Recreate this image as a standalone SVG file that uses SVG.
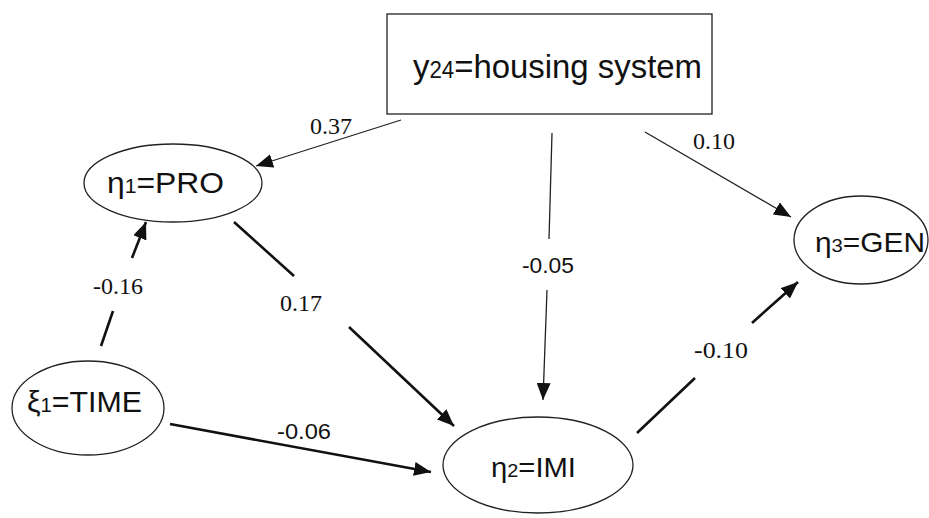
<svg xmlns="http://www.w3.org/2000/svg" width="929" height="518" viewBox="0 0 929 518">
<style>
.node{fill:#fff;stroke:#222;stroke-width:1.3}
.nt{font-family:"Liberation Sans",Arial,sans-serif;fill:#111}
.thin{stroke:#222;stroke-width:1.3;fill:none}
.thick{stroke:#111;stroke-width:2.6;fill:none}
.lbs{font-family:"Liberation Serif","Times New Roman",serif;font-size:24px;fill:#111}
.lbn{font-family:"Liberation Sans",Arial,sans-serif;font-size:22px;fill:#111}
</style>
<defs>
<marker id="ah" markerUnits="userSpaceOnUse" markerWidth="18" markerHeight="14" refX="17" refY="7" orient="auto">
<path d="M0,0 L17,7 L0,14 z" fill="#111"/>
</marker>
</defs>
<rect width="929" height="518" fill="#fff"/>
<g id="connectors">
<line class="thin" x1="401" y1="120" x2="256" y2="166" marker-end="url(#ah)"/>
<line class="thin" x1="552" y1="133" x2="549" y2="239"/>
<line class="thin" x1="547" y1="290" x2="543" y2="400" marker-end="url(#ah)"/>
<line class="thin" x1="645" y1="132" x2="791" y2="217" marker-end="url(#ah)"/>
<line class="thick" x1="101" y1="346" x2="113" y2="311"/>
<line class="thick" x1="132" y1="258" x2="146" y2="222" marker-end="url(#ah)"/>
<line class="thick" x1="234" y1="222" x2="294" y2="276"/>
<line class="thick" x1="349" y1="327" x2="454" y2="426" marker-end="url(#ah)"/>
<line class="thick" x1="170" y1="424" x2="431" y2="472" marker-end="url(#ah)"/>
<line class="thick" x1="637" y1="433" x2="695" y2="378"/>
<line class="thick" x1="752" y1="323" x2="798" y2="282" marker-end="url(#ah)"/>
<text class="lbs" x="310" y="134">0.37</text>
<text class="lbs" x="280" y="311">0.17</text>
<text class="lbs" x="93" y="294">-0.16</text>
<text class="lbn" x="522" y="273" textLength="52" lengthAdjust="spacingAndGlyphs">-0.05</text>
<text class="lbn" x="277" y="439" textLength="54" lengthAdjust="spacingAndGlyphs">-0.06</text>
<text class="lbs" x="694" y="358" textLength="54" lengthAdjust="spacingAndGlyphs">-0.10</text>
<text class="lbs" x="693" y="149">0.10</text>
</g>
<g id="y24">
<rect class="node" x="387" y="14" width="325" height="100"/>
<text class="nt" x="413" y="78" font-size="34" textLength="289" lengthAdjust="spacingAndGlyphs">y<tspan font-size="23">24</tspan>=housing system</text>
</g>
<g id="eta1">
<ellipse class="node" cx="173" cy="183" rx="89" ry="39"/>
<text class="nt" x="107" y="193" font-size="30" textLength="117" lengthAdjust="spacingAndGlyphs">η<tspan font-size="20">1</tspan>=PRO</text>
</g>
<g id="xi1">
<ellipse class="node" cx="88" cy="408" rx="76" ry="47"/>
<text class="nt" x="27" y="412" font-size="30" textLength="115" lengthAdjust="spacingAndGlyphs">ξ<tspan font-size="20">1</tspan>=TIME</text>
</g>
<g id="eta2">
<ellipse class="node" cx="538" cy="465" rx="95" ry="48"/>
<text class="nt" x="491" y="477" font-size="28" textLength="85" lengthAdjust="spacingAndGlyphs">η<tspan font-size="19">2</tspan>=IMI</text>
</g>
<g id="eta3">
<ellipse class="node" cx="861" cy="240" rx="67" ry="44"/>
<text class="nt" x="815" y="252" font-size="28" textLength="110" lengthAdjust="spacingAndGlyphs">η<tspan font-size="19">3</tspan>=GEN</text>
</g>
</svg>
